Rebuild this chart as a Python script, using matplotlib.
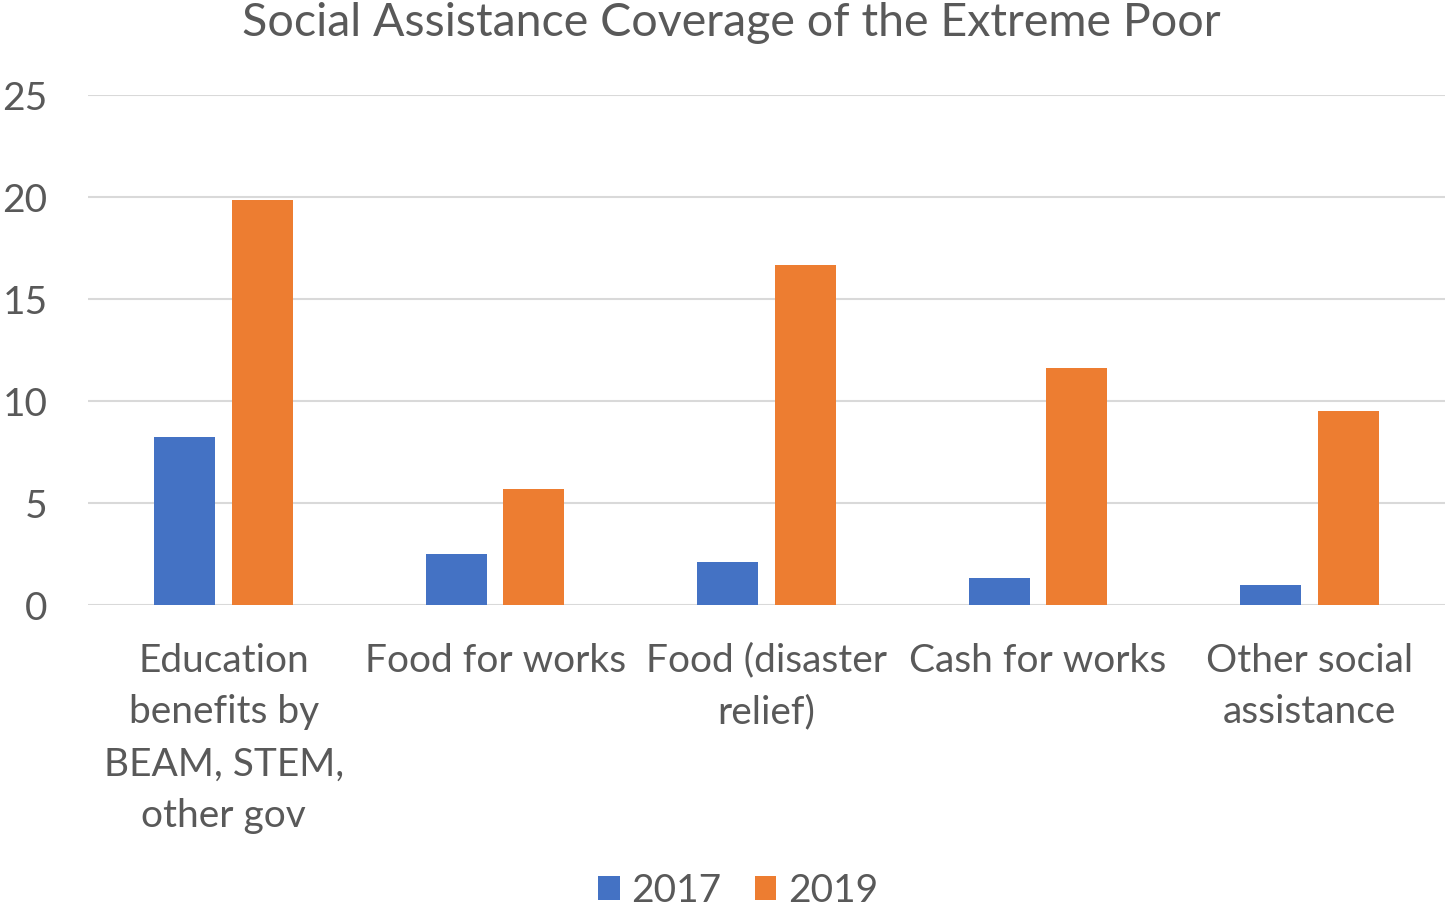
import matplotlib
matplotlib.use('Agg')
import matplotlib.pyplot as plt
import numpy as np

categories = ['Education\nbenefits by\nBEAM, STEM,\nother gov', 'Food for works',
              'Food (disaster\nrelief)', 'Cash for works', 'Other social\nassistance']
values_2017 = [8.24, 2.5, 2.09, 1.32, 0.98]
values_2019 = [19.85, 5.67, 16.67, 11.63, 9.52]
yticks = [0, 5, 10, 15, 20, 25]

plt.rcParams['font.family'] = ['Lato', 'DejaVu Sans']
text_color = '#595959'

fig = plt.figure(figsize=(14.48, 9.11), dpi=100)
ax = fig.add_axes([88 / 1448, 1 - 605 / 911, (1445 - 88) / 1448, (605 - 95) / 911])

x = np.arange(len(categories))
width = 0.225
offset = 0.143
ax.bar(x - offset, values_2017, width, color='#4472C4', label='2017', zorder=3)
ax.bar(x + offset, values_2019, width, color='#ED7D31', label='2019', zorder=3)

ax.set_xlim(-0.5, len(categories) - 0.5)
ax.set_ylim(0, 25)
ax.set_yticks(yticks)
ax.set_xticks(x)
ax.set_xticklabels(categories, linespacing=1.55)
ax.tick_params(axis='both', length=0, labelsize=28, colors=text_color)
ax.tick_params(axis='x', pad=27)
ax.tick_params(axis='y', pad=29)

ax.grid(axis='y', color='#d9d9d9', linewidth=1.5, zorder=0)
for s in ax.spines.values():
    s.set_visible(False)

fig.suptitle('Social Assistance Coverage of the Extreme Poor', fontsize=33.5,
             color=text_color, x=731 / 1448, y=1 - 2 / 911, va='top')

fig.legend(loc='center', bbox_to_anchor=(738 / 1448, 1 - 891 / 911), ncol=2,
           frameon=False, fontsize=28, labelcolor=text_color, handlelength=0.56,
           handleheight=0.56, handletextpad=0.3, columnspacing=0.85)

fig.savefig('out.png', dpi=100, facecolor='white')
